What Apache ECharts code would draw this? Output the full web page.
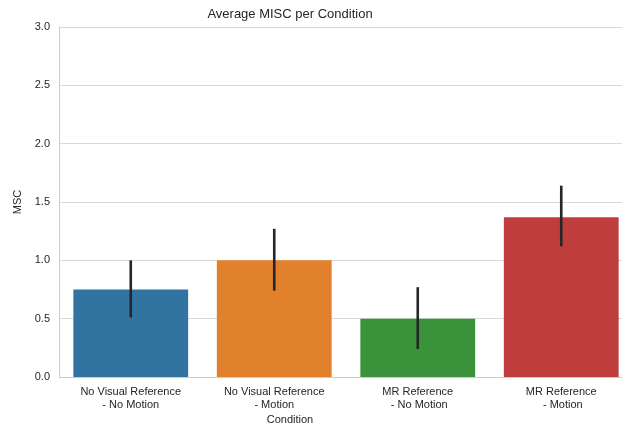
<!DOCTYPE html>
<html>
<head>
<meta charset="utf-8">
<script src="https://cdn.jsdelivr.net/npm/echarts@6/dist/echarts.min.js"></script>
<style>
html,body{margin:0;padding:0;background:#fff;overflow:hidden;width:622px;height:427px;}
#chart{width:634px;height:427px;}
</style>
</head>
<body>
<div id="chart"></div>
<script>
var categories = ['No Visual Reference\n- No Motion', 'No Visual Reference\n- Motion', 'MR Reference\n - No Motion', 'MR Reference\n - Motion'];
var means = [0.75, 1.0, 0.5, 1.37];
var errLow = [0.51, 0.74, 0.24, 1.12];
var errHigh = [1.0, 1.27, 0.77, 1.64];
var colors = ['#3274a1', '#e1812c', '#3a923a', '#c03d3e'];
var yTicks = [0, 0.5, 1.0, 1.5, 2.0, 2.5, 3.0];

var FONT = 'Liberation Sans, Arial, sans-serif';
var chart = echarts.init(document.getElementById('chart'), null, {renderer: 'canvas', width: 634, height: 427});
var option = {
  animation: false,
  backgroundColor: '#ffffff',
  textStyle: {fontFamily: FONT},
  grid: {left: 59, top: 27, right: 1, bottom: 50},
  xAxis: {
    type: 'category',
    data: categories,
    axisLine: {show: true, lineStyle: {color: '#cccccc', width: 1}},
    axisTick: {show: false},
    splitLine: {show: false},
    axisLabel: {color: '#262626', fontSize: 11, fontFamily: FONT, margin: 8, lineHeight: 13}
  },
  yAxis: {
    type: 'value',
    min: 0, max: 3, interval: 0.5,
    name: 'MSC',
    nameLocation: 'middle',
    nameGap: 35,
    nameTextStyle: {color: '#262626', fontSize: 11, fontFamily: FONT},
    axisLine: {show: true, lineStyle: {color: '#cccccc', width: 1}},
    axisTick: {show: false},
    splitLine: {show: true, lineStyle: {color: '#d9d9d9', width: 1}},
    axisLabel: {
      color: '#262626', fontSize: 11, fontFamily: FONT, margin: 9,
      formatter: function (v) { return v.toFixed(1); }
    }
  },
  graphic: [
    {type: 'text', x: 290, y: 8, style: {text: 'Average MISC per Condition', fill: '#262626', font: '13px ' + FONT, textAlign: 'center'}},
    {type: 'text', x: 290, y: 414, style: {text: 'Condition', fill: '#262626', font: '11px ' + FONT, textAlign: 'center'}}
  ],
  series: [
    {
      type: 'bar',
      barWidth: '80%',
      data: means.map(function (v, i) { return {value: v, itemStyle: {color: colors[i]}}; }),
      z: 2
    },
    {
      type: 'custom',
      z: 3,
      data: errLow.map(function (lo, i) { return [i, lo, errHigh[i]]; }),
      renderItem: function (params, api) {
        var p1 = api.coord([api.value(0), api.value(1)]);
        var p2 = api.coord([api.value(0), api.value(2)]);
        return {
          type: 'line',
          shape: {x1: p1[0], y1: p1[1], x2: p2[0], y2: p2[1]},
          style: {stroke: '#262626', lineWidth: 2.6}
        };
      }
    }
  ]
};
chart.setOption(option);
</script>
</body>
</html>
